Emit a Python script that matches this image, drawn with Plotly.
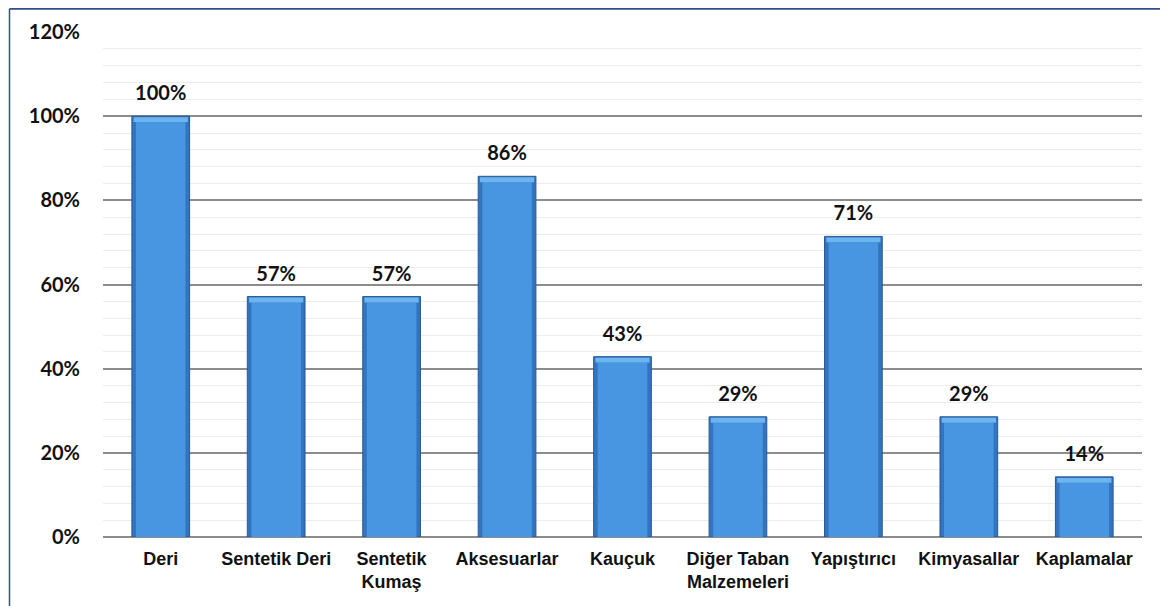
import plotly.graph_objects as go

categories = ["Deri", "Sentetik Deri", "Sentetik<br>Kumaş", "Aksesuarlar", "Kauçuk",
              "Diğer Taban<br>Malzemeleri", "Yapıştırıcı", "Kimyasallar", "Kaplamalar"]
values = [100.0, 57.14, 57.14, 85.71, 42.86, 28.57, 71.43, 28.57, 14.29]
y_ticks = [0, 20, 40, 60, 80, 100, 120]
y_tick_labels = ["0%", "20%", "40%", "60%", "80%", "100%", "120%"]

W, H = 1168, 606
# page body has an 8px default margin; margins compensate for it
L, R, T, B = 95, 34, 24, 77
PW, PH = W - L - R, H - T - B

cap_h = 1.4
fig = go.Figure()
# outer (darker edge) bar
fig.add_trace(go.Bar(
    x=categories, y=values, width=0.5,
    marker=dict(color="#3473BE", line=dict(color="#285A98", width=1)),
    hoverinfo="skip",
))
# inner lighter body
fig.add_trace(go.Bar(
    x=categories, y=[v - cap_h for v in values], width=0.43,
    marker=dict(color="#4895E1", line=dict(width=0)),
    hoverinfo="skip",
))
# top bevel highlight
fig.add_trace(go.Bar(
    x=categories, y=[cap_h - 0.25] * len(values), base=[v - cap_h for v in values],
    width=0.47,
    marker=dict(color="#6CB5EE", line=dict(width=0)),
    hoverinfo="skip",
))
# value labels
fig.add_trace(go.Scatter(
    x=categories, y=[v + 2.6 for v in values], mode="text",
    text=[f"{v:.0f}%" for v in values], textposition="top center",
    textfont=dict(family="Lato, Open Sans, sans-serif", size=20, color="#111111", weight="bold"),
    cliponaxis=False, hoverinfo="skip",
))

fig.update_layout(
    width=W, height=H,
    margin=dict(l=L, r=R, t=T, b=B),
    paper_bgcolor="white", plot_bgcolor="white",
    barmode="overlay",
    showlegend=False,
    font=dict(family="Liberation Sans, Arial, sans-serif", color="#111111"),
    xaxis=dict(
        tickfont=dict(family="Liberation Sans, Arial, sans-serif", size=18, color="#111111", weight="bold"),
        showgrid=False, showline=False, ticks="",
        ticklabelstandoff=9,
    ),
    yaxis=dict(
        range=[0, 120],
        tickvals=y_ticks, ticktext=y_tick_labels,
        tickfont=dict(family="Lato, Open Sans, sans-serif", size=20, color="#111111", weight="bold"),
        showgrid=True, gridcolor="#8C8C8C", gridwidth=1.6,
        minor=dict(dtick=4, showgrid=True, gridcolor="#ECECEC", gridwidth=1),
        zeroline=True, zerolinecolor="#8C8C8C", zerolinewidth=2,
        ticklabelstandoff=22,
        showline=False,
    ),
    shapes=[
        dict(type="line", xref="paper", yref="paper",
             x0=(1.5 - L) / PW, x1=(1.5 - L) / PW,
             y0=1 + (T - 0.8) / PH, y1=-B / PH,
             line=dict(color="#2F4F8F", width=1.5)),
        dict(type="line", xref="paper", yref="paper",
             x0=(1.5 - L) / PW, x1=(W - L) / PW,
             y0=1 + (T - 0.8) / PH, y1=1 + (T - 0.8) / PH,
             line=dict(color="#2F4F8F", width=2)),
    ],
)

fig.write_html("out.html")
